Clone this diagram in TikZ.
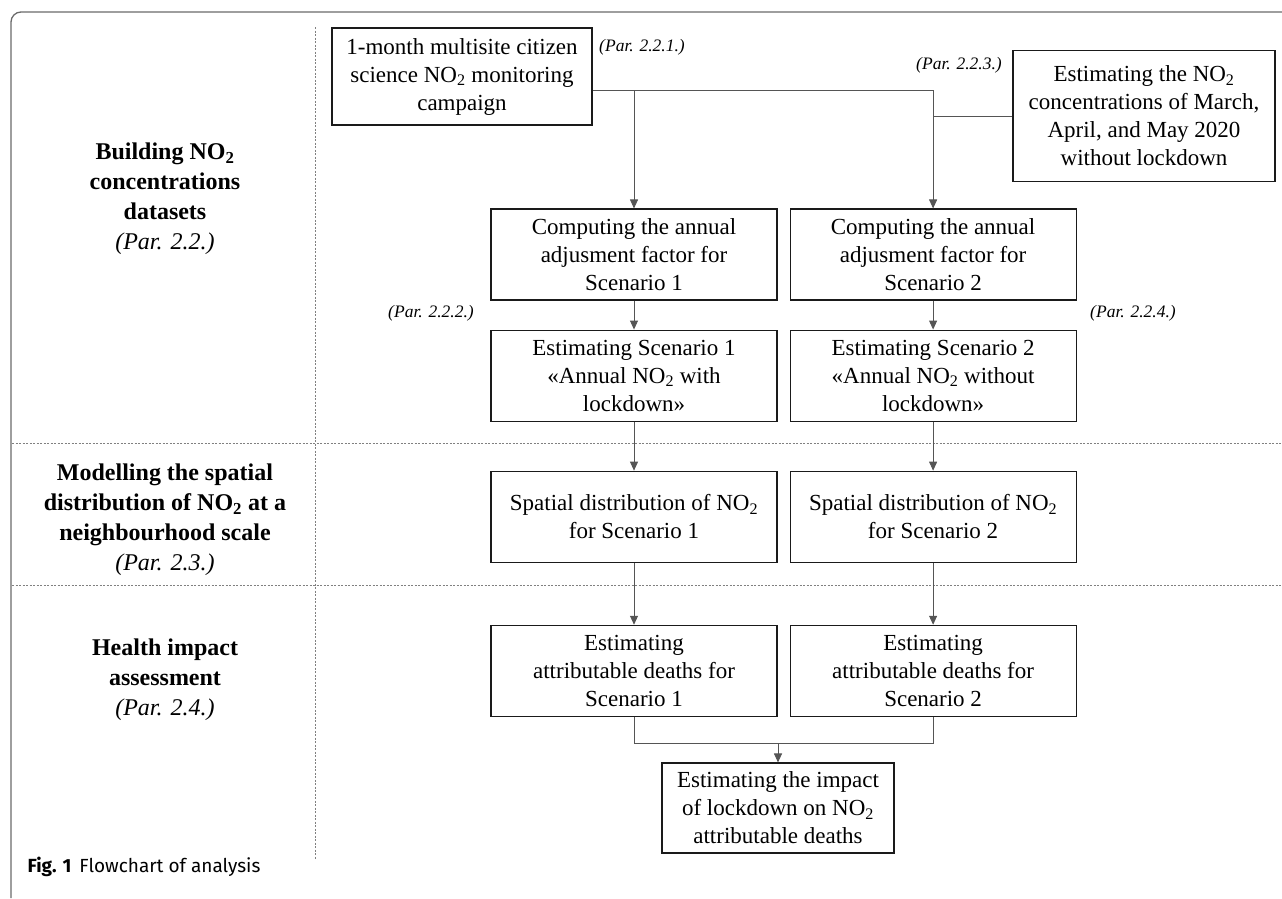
\documentclass[tikz,border=0pt]{standalone}
\usepackage{fontspec}
\setmainfont{Liberation Serif}
\newfontfamily\capfont{Fira Sans}
\usetikzlibrary{arrows.meta, positioning, calc}
\definecolor{tinta}{HTML}{1A1A1A}
\definecolor{linea}{HTML}{555555}
\definecolor{marco}{HTML}{6A6A6A}
\definecolor{punteo}{HTML}{808080}
\tikzset{
  caja/.style={rectangle, draw=tinta, line width=1.1pt, fill=white, text=black,
               minimum width=286pt, minimum height=91pt, align=center, inner sep=2pt,
               font=\fontsize{23}{28}\selectfont},
  etiq/.style={align=center, font=\fontsize{24}{30}\selectfont},
  par/.style={font=\fontsize{17.5}{20}\selectfont\itshape},
  conn/.style={line width=0.9pt, color=linea},
  arrow/.style={conn, -{Triangle[length=9pt,width=8pt]}},
  sep/.style={line width=0.8pt, color=punteo, dash pattern=on 2pt off 1.5pt}
}
\begin{document}
\begin{tikzpicture}[x=1pt, y=-1pt]
  \useasboundingbox (0,0) rectangle (1282,898);
  \draw [color=marco, line width=1.3pt, rounded corners=10pt] (11,898) -- (11,12) -- (1282,12);
  \draw [sep] (315,27) -- (315,860);
  \draw [sep] (12,443) -- (1282,443);
  \draw [sep] (12,585) -- (1282,585);

  \node (lb1) [etiq] at (165,199) {\textbf{Building NO\textsubscript{2}}\\ \textbf{concentrations}\\ \textbf{datasets}\\ \textit{(Par. 2.2.)}};
  \node (lb2) [etiq] at (165,520) {\textbf{Modelling the spatial}\\ \textbf{distribution of NO\textsubscript{2} at a}\\ \textbf{neighbourhood scale}\\ \textit{(Par. 2.3.)}};
  \node (lb3) [etiq] at (165,680) {\textbf{Health impact}\\ \textbf{assessment}\\ \textit{(Par. 2.4.)}};

  \node (camp) [caja, minimum width=260pt, minimum height=97pt] at (462,76.5) {1-month multisite citizen\\ science NO\textsubscript{2} monitoring\\ campaign};
  \node (sinlock) [caja, minimum width=262pt, minimum height=131pt] at (1144,116) {Estimating the NO\textsubscript{2}\\ concentrations of March,\\ April, and May 2020\\ without lockdown};
  \node (fac1) [caja] at (634,254.5) {Computing the annual\\ adjusment factor for\\ Scenario 1};
  \node (fac2) [caja, right=12pt of fac1] {Computing the annual\\ adjusment factor for\\ Scenario 2};
  \node (esc1) [caja, below=29pt of fac1] {Estimating Scenario 1\\ «Annual NO\textsubscript{2} with\\ lockdown»};
  \node (esc2) [caja, below=29pt of fac2] {Estimating Scenario 2\\ «Annual NO\textsubscript{2} without\\ lockdown»};
  \node (esp1) [caja, below=49pt of esc1] {Spatial distribution of NO\textsubscript{2}\\ for Scenario 1};
  \node (esp2) [caja, below=49pt of esc2] {Spatial distribution of NO\textsubscript{2}\\ for Scenario 2};
  \node (mue1) [caja, below=62pt of esp1] {Estimating\\ attributable deaths for\\ Scenario 1};
  \node (mue2) [caja, below=62pt of esp2] {Estimating\\ attributable deaths for\\ Scenario 2};
  \node (impacto) [caja, minimum width=232pt, minimum height=90pt] at (778,808) {Estimating the impact\\ of lockdown on NO\textsubscript{2}\\ attributable deaths};

  \node (p221) [par] at (642,47) {(Par. 2.2.1.)};
  \node (p223) [par] at (959,65) {(Par. 2.2.3.)};
  \node (p222) [par] at (431,313) {(Par. 2.2.2.)};
  \node (p224) [par] at (1133,313) {(Par. 2.2.4.)};

  \coordinate (salida) at ([yshift=-13.5pt]camp.east);
  \draw [arrow] (salida) -| (fac2.north);
  \draw [arrow] (salida -| fac1.north) -- (fac1.north);
  \draw [conn] (sinlock.west) -- (sinlock.west -| fac2.north);
  \draw [arrow] (fac1) -- (esc1); \draw [arrow] (fac2) -- (esc2);
  \draw [arrow] (esc1) -- (esp1); \draw [arrow] (esc2) -- (esp2);
  \draw [arrow] (esp1) -- (mue1); \draw [arrow] (esp2) -- (mue2);
  \coordinate (union) at ([yshift=-27pt]mue1.south);
  \draw [conn] (mue1.south) -- (union) -| (mue2.south);
  \draw [arrow] (union -| impacto.north) -- (impacto.north);

  \node (pie) [anchor=west, font=\capfont\fontsize{19}{22}\selectfont] at (24,867) {\textbf{Fig. 1}\hspace{8pt}Flowchart of analysis};
\end{tikzpicture}
\end{document}
